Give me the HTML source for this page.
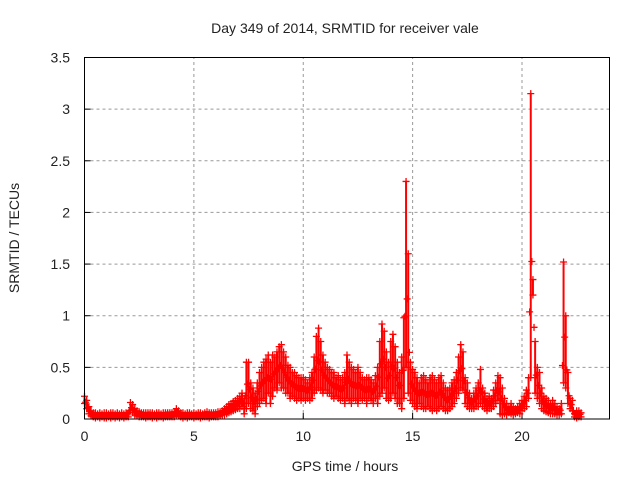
<!DOCTYPE html>
<html><head><meta charset="utf-8"><style>
body{margin:0;background:#fff}
svg{display:block;font-family:"Liberation Sans",sans-serif}
</style></head><body>
<svg id="chart" width="640" height="480" xmlns="http://www.w3.org/2000/svg">
<text x="345" y="33" font-size="14" text-anchor="middle" fill="#222">Day 349 of 2014, SRMTID for receiver vale</text>
<text x="345" y="471" font-size="14" text-anchor="middle" fill="#222">GPS time / hours</text>
<text transform="translate(19,238) rotate(-90)" font-size="14" text-anchor="middle" fill="#222">SRMTID / TECUs</text>
<g id="grid"></g>
<g id="ticks"></g>
<g id="marks"></g>
<rect x="84.5" y="57.5" width="525" height="361.5" fill="none" stroke="#000" stroke-width="1"/>
</svg>
<script>
const xTicks=[0,5,10,15,20];
const yTicks=[0,0.5,1,1.5,2,2.5,3,3.5];
const yTickLabels=["0","0.5","1","1.5","2","2.5","3","3.5"];
const t0=0, dt=0.1;
const hiVals=[
.22,.18,.12,.08,.06,.06,.05,.06,.05,.06,
.06,.05,.06,.06,.05,.06,.05,.06,.05,.06,
.06,.16,.14,.10,.08,.07,.06,.06,.06,.06,
.06,.06,.05,.06,.06,.05,.06,.06,.06,.06,
.06,.07,.10,.08,.06,.06,.05,.06,.06,.05,
.06,.05,.06,.06,.05,.06,.07,.06,.06,.06,
.06,.07,.07,.08,.10,.12,.14,.15,.17,.18,
.20,.22,.25,.20,.55,.55,.35,.30,.25,.35,
.45,.50,.55,.58,.62,.55,.62,.60,.65,.70,
.72,.65,.60,.52,.50,.45,.45,.42,.40,.40,
.40,.38,.35,.40,.45,.60,.80,.88,.75,.62,
.55,.50,.48,.45,.45,.40,.42,.38,.40,.45,
.62,.55,.50,.48,.45,.50,.45,.40,.38,.40,
.40,.38,.35,.42,.50,.75,.92,.85,.65,.55,
.75,.82,.70,.55,.45,.60,.98,2.30,1.60,.55,
.48,.45,.40,.35,.40,.42,.38,.35,.40,.42,
.38,.35,.40,.42,.35,.30,.28,.30,.35,.38,
.45,.60,.72,.65,.40,.35,.25,.20,.25,.30,
.35,.48,.30,.25,.20,.22,.20,.28,.35,.42,
.40,.30,.20,.15,.12,.15,.12,.10,.12,.15,
.18,.22,.28,.40,3.15,1.35,.75,.50,.45,.30,
.22,.20,.18,.15,.18,.15,.12,.10,.15,1.52,
1.0,.45,.20,.18,.05,.08,.08,.06];
const loVals=[
.15,.10,.05,.03,.02,.01,.02,.01,.02,.01,
.01,.02,.01,.02,.01,.02,.01,.02,.01,.02,
.02,.08,.06,.04,.03,.02,.02,.02,.01,.02,
.02,.01,.02,.01,.02,.02,.01,.02,.02,.02,
.02,.02,.04,.03,.02,.01,.02,.01,.02,.02,
.01,.02,.02,.01,.02,.02,.02,.01,.02,.02,
.02,.02,.03,.04,.04,.05,.06,.07,.08,.09,
.10,.10,.12,.05,.10,.15,.10,.08,.05,.12,
.15,.18,.20,.15,.25,.15,.22,.30,.28,.35,
.30,.30,.25,.25,.20,.22,.20,.18,.20,.18,
.20,.18,.20,.18,.20,.25,.28,.30,.28,.25,
.28,.25,.25,.22,.20,.22,.20,.18,.20,.15,
.20,.18,.15,.20,.18,.15,.20,.18,.20,.15,
.20,.18,.15,.20,.15,.22,.25,.30,.20,.18,
.20,.25,.20,.15,.15,.10,.20,.50,.25,.18,
.15,.12,.10,.15,.12,.10,.10,.12,.10,.08,
.10,.08,.10,.12,.10,.08,.08,.10,.12,.15,
.20,.25,.30,.28,.15,.12,.10,.10,.10,.12,
.12,.15,.12,.10,.08,.10,.10,.12,.15,.18,
.05,.04,.05,.04,.06,.05,.04,.05,.06,.05,
.08,.10,.12,.20,.40,1.20,.25,.20,.15,.10,
.08,.07,.06,.05,.05,.05,.04,.04,.05,.35,
.30,.15,.10,.08,.02,.01,.02,.02];
const NS="http://www.w3.org/2000/svg";
const X0=84.5,X1=609.5,Y0=419,Y1=57.5,XMAX=24,YMAX=3.5;
const xs=v=>X0+(X1-X0)*v/XMAX;
const ys=v=>Y0-(Y0-Y1)*v/YMAX;
function mk(tag,attrs,parent){const e=document.createElementNS(NS,tag);for(const k in attrs)e.setAttribute(k,attrs[k]);parent.appendChild(e);return e;}
const grid=document.getElementById('grid'),ticks=document.getElementById('ticks'),marks=document.getElementById('marks');
xTicks.forEach(v=>{
  const x=xs(v);
  if(v>0){const g=mk('line',{x1:x,x2:x,y1:Y0,y2:Y1,stroke:'#999','stroke-dasharray':'3,3'},grid);
  
  }
  const t=mk('line',{x1:x,x2:x,y1:Y0,y2:Y0-6,stroke:'#000'},ticks);
  
  
  const l=mk('text',{x:x,y:Y0+22,'font-size':14,'text-anchor':'middle',fill:'#222'},ticks);
  l.textContent=String(v);
  
  
});
yTicks.forEach((v,i)=>{
  const y=ys(v);
  if(v>0&&v<YMAX){const g=mk('line',{x1:X0,x2:X1,y1:y,y2:y,stroke:'#999','stroke-dasharray':'3,3'},grid);
  
  }
  const t=mk('line',{x1:X0,x2:X0+6,y1:y,y2:y,stroke:'#000'},ticks);
  
  
  const l=mk('text',{x:70,y:y+5,'font-size':14,'text-anchor':'end',fill:'#222'},ticks);
  l.textContent=yTickLabels[i];
  
  
});
function plus(x,y){
  const p=mk('path',{d:`M${x-3.5},${y}h7M${x},${y-3.5}v7`,stroke:'#f00','stroke-width':1.3,fill:'none'},marks);
  
  
}
hiVals.forEach((h,i)=>{
  const t=t0+i*dt,x=xs(t),yh=ys(h),yl=ys(loVals[i]);
  const b=mk('line',{x1:x,x2:x,y1:yh,y2:yl,stroke:'#f00','stroke-width':2},marks);
  
  
  plus(x,yh);plus(x,yl);
  if(i>0){const xm=xs(t-dt/2),ym=ys((h+hiVals[i-1]+loVals[i]+loVals[i-1])/4);plus(xm,ym);}
});
</script>
</body></html>
